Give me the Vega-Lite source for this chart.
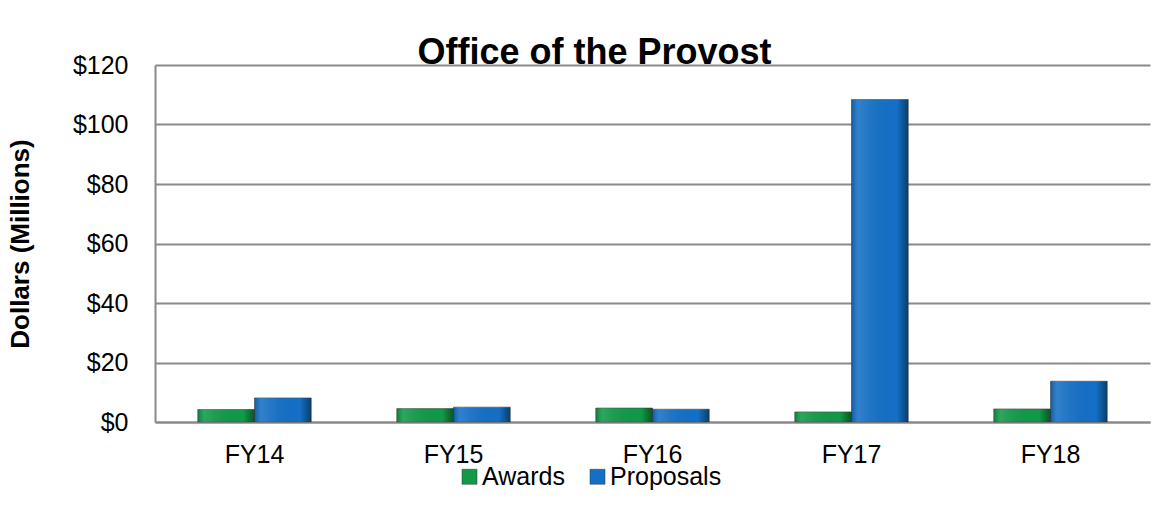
{
  "$schema": "https://vega.github.io/schema/vega-lite/v6.json",
  "width": 995,
  "height": 357,
  "autosize": {"type": "none"},
  "padding": {"left": 155, "top": 65, "right": 18, "bottom": 88},
  "background": "white",
  "config": {
    "font": "Liberation Sans",
    "view": {"stroke": null},
    "legend": {"padding": 0}
  },
  "title": {
    "text": "Office of the Provost",
    "font": "Liberation Sans",
    "fontSize": 36,
    "fontWeight": "bold",
    "color": "black",
    "anchor": "middle",
    "frame": "group",
    "baseline": "alphabetic",
    "offset": 1,
    "dx": -58,
    "dy": 48
  },
  "data": {
    "values": [
      {"FY": "FY14", "series": "Awards", "value": 4.2},
      {"FY": "FY14", "series": "Proposals", "value": 8.1},
      {"FY": "FY15", "series": "Awards", "value": 4.5},
      {"FY": "FY15", "series": "Proposals", "value": 5.0},
      {"FY": "FY16", "series": "Awards", "value": 4.7},
      {"FY": "FY16", "series": "Proposals", "value": 4.3},
      {"FY": "FY17", "series": "Awards", "value": 3.4},
      {"FY": "FY17", "series": "Proposals", "value": 108.4},
      {"FY": "FY18", "series": "Awards", "value": 4.4},
      {"FY": "FY18", "series": "Proposals", "value": 13.7}
    ]
  },
  "encoding": {
    "x": {
      "field": "FY",
      "type": "nominal",
      "sort": ["FY14", "FY15", "FY16", "FY17", "FY18"],
      "scale": {"paddingInner": 0.43, "paddingOuter": 0.215},
      "axis": {
        "title": null,
        "labelAngle": 0,
        "labelFontSize": 25,
        "labelColor": "black",
        "labelPadding": 20,
        "ticks": false,
        "domainColor": "#8a8a8a",
        "domainWidth": 2
      }
    },
    "xOffset": {"field": "series", "sort": ["Awards", "Proposals"], "scale": {"paddingInner": 0, "paddingOuter": 0}},
    "y": {
      "field": "value",
      "type": "quantitative",
      "scale": {"domain": [0, 120]},
      "axis": {
        "title": "Dollars (Millions)",
        "titleFontSize": 26,
        "titleFontWeight": "bold",
        "titleColor": "black",
        "titlePadding": 39,
        "values": [0, 20, 40, 60, 80, 100, 120],
        "format": "$.0f",
        "labelFontSize": 25,
        "labelColor": "black",
        "labelPadding": 27,
        "ticks": false,
        "grid": true,
        "gridColor": "#8a8a8a",
        "gridWidth": 2,
        "domainColor": "#8a8a8a",
        "domainWidth": 2
      }
    }
  },
  "layer": [
    {
      "mark": {"type": "bar", "stroke": "#4a4a4a", "strokeWidth": 0.6},
      "encoding": {
        "color": {
          "field": "series",
          "type": "nominal",
          "scale": {"domain": ["Awards", "Proposals"], "range": ["#109a48", "#1470c6"]},
          "legend": {
            "title": null,
            "orient": "none",
            "direction": "horizontal",
            "legendX": 302,
            "legendY": 399,
            "symbolType": "square",
            "symbolSize": 225,
            "symbolStrokeWidth": 0.5,
            "symbolStrokeColor": "#333",
            "labelFontSize": 25,
            "labelColor": "black",
            "labelOffset": 0,
            "columnPadding": 20
          }
        }
      }
    },
    {
      "mark": {
        "type": "bar",
        "fill": {
          "gradient": "linear",
          "x1": 0, "y1": 0, "x2": 1, "y2": 0,
          "stops": [
            {"offset": 0, "color": "rgba(0,0,0,0.2)"},
            {"offset": 0.12, "color": "rgba(255,255,255,0.12)"},
            {"offset": 0.8, "color": "rgba(0,0,0,0)"},
            {"offset": 1, "color": "rgba(0,0,0,0.45)"}
          ]
        }
      }
    }
  ]
}
